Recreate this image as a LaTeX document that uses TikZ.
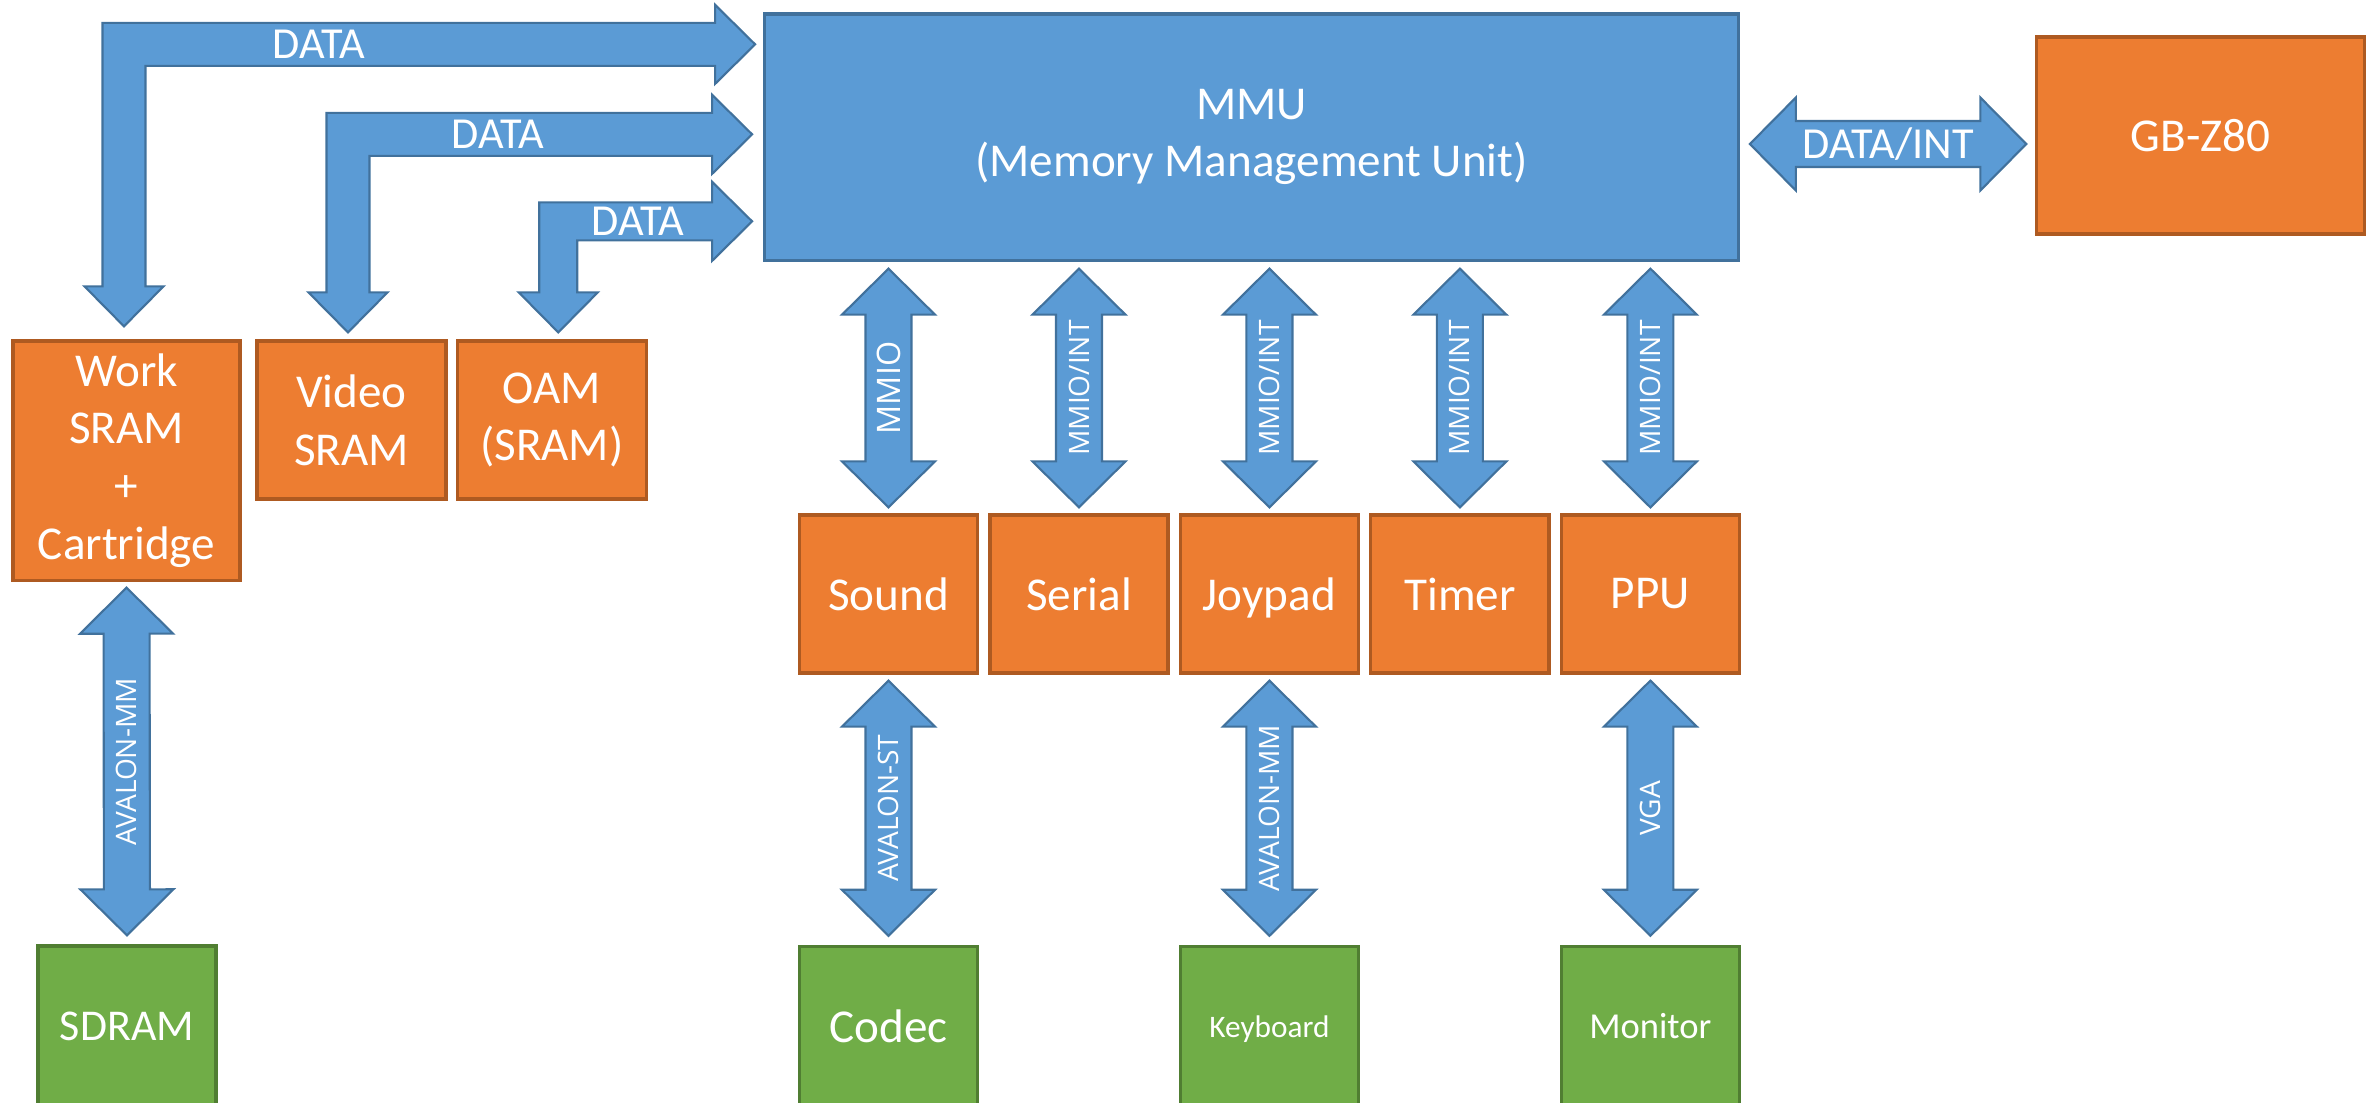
\documentclass[tikz,border=0pt]{standalone}
\usepackage{fontspec}
\setmainfont{Carlito}
\newfontfamily\tagfam{Open Sans}
\usetikzlibrary{positioning,chains,calc}

\definecolor{busblue}{HTML}{5B9BD5}
\definecolor{busedge}{HTML}{41719C}
\definecolor{ipfill}{HTML}{ED7D31}
\definecolor{ipedge}{HTML}{AE5A21}
\definecolor{extfill}{HTML}{70AD47}
\definecolor{extedge}{HTML}{507E32}

\newcommand{\ipfont}{\fontsize{13.4}{16.4}\selectfont}
\newcommand{\datafont}{\fontsize{12.6}{15}\selectfont}
\newcommand{\tagfont}{\tagfam\fontsize{8}{10}\selectfont}
\newcommand{\mmiofont}{\tagfam\fontsize{9.2}{11}\selectfont}
\newcommand{\sdfont}{\fontsize{12.5}{15}\selectfont}
\newcommand{\kbfont}{\fontsize{8.9}{10}\selectfont}
\newcommand{\monfont}{\fontsize{10.4}{12}\selectfont}

\newcommand{\busshaft}{0.23cm}
\newcommand{\bushead}{0.465cm}
\newcommand{\buslen}{0.46cm}
\newcommand{\datahead}{0.395cm}
\newcommand{\datalen}{0.40cm}

% straight bus with heads at both ends
\newcommand{\biarrow}[4]{%
  \filldraw[busarrow] (#1)
    -- ($(#1)!\buslen!(#2)!\bushead!90:(#2)$)
    -- ($(#1)!\buslen!(#2)!\busshaft!90:(#2)$)
    -- ($(#2)!\buslen!(#1)!\busshaft!-90:(#1)$)
    -- ($(#2)!\buslen!(#1)!\bushead!-90:(#1)$)
    -- (#2)
    -- ($(#2)!\buslen!(#1)!\bushead!90:(#1)$)
    -- ($(#2)!\buslen!(#1)!\busshaft!90:(#1)$)
    -- ($(#1)!\buslen!(#2)!\busshaft!-90:(#2)$)
    -- ($(#1)!\buslen!(#2)!\bushead!-90:(#2)$)
    -- cycle;
  \node[buslabel,#3] at ($(#1)!.5!(#2)$) {#4};}

% bent bus: down tip, right tip, half shaft, label shift, label
\newcommand{\databus}[5]{%
  \filldraw[busarrow] let \p1=(#1), \p2=(#2) in
    (\p1) -- (\x1+\datahead,\y1+\datalen) -- (\x1+#3,\y1+\datalen)
    -- (\x1+#3,\y2-#3) -- (\x2-\datalen,\y2-#3) -- (\x2-\datalen,\y2-\datahead)
    -- (\p2) -- (\x2-\datalen,\y2+\datahead) -- (\x2-\datalen,\y2+#3)
    -- (\x1-#3,\y2+#3) -- (\x1-#3,\y1+\datalen) -- (\x1-\datahead,\y1+\datalen) -- cycle
    (\x2-#4,\y2) node[buslabel,font=\datafont] {#5};}

\begin{document}
\begin{tikzpicture}[x=0.01cm,y=-0.01cm]
  \tikzset{
    mmubox/.style={draw=busedge,fill=busblue,line width=0.9pt,text=white,align=center,font=\ipfont,inner sep=0pt},
    ipbox/.style={draw=ipedge,fill=ipfill,line width=0.9pt,text=white,align=center,font=\ipfont,inner sep=0pt,minimum width=1.78cm,minimum height=1.58cm},
    extbox/.style={ipbox,draw=extedge,fill=extfill,minimum height=1.6cm},
    busarrow/.style={draw=busedge,fill=busblue,line width=0.6pt},
    buslabel/.style={text=white,inner sep=0pt,font=\tagfont}
  }
  \useasboundingbox (0,0) rectangle (2374,1102);

  %% core and memories
  \node[mmubox,minimum width=9.73cm,minimum height=2.46cm] (mmu) at (1251.5,137) {MMU\\(Memory Management Unit)};
  \node[ipbox,minimum width=3.27cm,minimum height=1.97cm] (cpu) at (2200.5,135.5) {GB-Z80};
  \node[ipbox,minimum width=2.27cm,minimum height=2.39cm] (wram) at (126.5,460.5) {Work\\SRAM\\+\\Cartridge};
  \node[ipbox,minimum width=1.89cm] (vram) at (351.5,420) {Video\\SRAM};
  \node[ipbox,minimum width=1.89cm,right=0.08cm of vram] (oam) {OAM\\(SRAM)};
  \node[extbox,font=\sdfont] (sdram) at (127,1026) {SDRAM};

  %% peripherals
  \begin{scope}[start chain=1 going right,node distance=0.092cm]
    \node[on chain=1,ipbox] (snd) at (888.5,594) {Sound};
    \node[on chain=1,ipbox] (ser) {Serial};
    \node[on chain=1,ipbox,text depth=0pt] (joy) {Joypad};
    \node[on chain=1,ipbox] (tim) {Timer};
    \node[on chain=1,ipbox] (ppu) {PPU};
  \end{scope}
  \node[extbox,below=2.7cm of snd] (codec) {Codec};
  \node[extbox,below=2.7cm of joy,font=\kbfont,text depth=0pt] (kbd) {Keyboard};
  \node[extbox,below=2.7cm of ppu,font=\monfont] (mon) {Monitor};

  %% data buses to the MMU
  \coordinate (wram-a) at ($(wram.north)+(-2.5,-13)$);
  \coordinate (wram-b) at ($(mmu.north west)+(-8,32)$);
  \coordinate (vram-a) at ($(vram.north)+(-3.5,-7)$);
  \coordinate (vram-b) at ($(mmu.north west)+(-11,122)$);
  \coordinate (oam-a) at ($(oam.north)+(6.5,-7)$);
  \coordinate (oam-b) at ($(mmu.north west)+(-11,209)$);
  \databus{wram-a}{wram-b}{0.215cm}{4.36cm}{DATA}
  \databus{vram-a}{vram-b}{0.215cm}{2.54cm}{DATA}
  \databus{oam-a}{oam-b}{0.19cm}{1.14cm}{DATA}

  \coordinate (cpu-a) at ($(mmu.east)+(10,7)$);
  \coordinate (cpu-b) at ($(cpu.west |- mmu.east)+(-9,7)$);
  \biarrow{cpu-a}{cpu-b}{font=\datafont}{DATA/INT}

  %% memory mapped io
  \foreach \dev in {snd,ser,joy,tim,ppu} {
    \coordinate (\dev-a) at ($(mmu.south -| \dev.north)+(0,7)$);
    \coordinate (\dev-b) at ($(\dev.north)+(0,-6)$);
  }
  \biarrow{snd-a}{snd-b}{rotate=90,font=\mmiofont}{MMIO}
  \foreach \dev in {ser,joy,tim,ppu}
    {\biarrow{\dev-a}{\dev-b}{rotate=90}{MMIO/INT}}

  %% external devices
  \foreach \dev/\ext in {snd/codec,joy/kbd,ppu/mon,wram/sdram} {
    \coordinate (\ext-a) at ($(\dev.south)+(0,6)$);
    \coordinate (\ext-b) at ($(\ext.north)+(0,-9)$);
  }
  \biarrow{codec-a}{codec-b}{rotate=90}{AVALON-ST}
  \biarrow{kbd-a}{kbd-b}{rotate=90}{AVALON-MM}
  \biarrow{mon-a}{mon-b}{rotate=90}{VGA}
  \biarrow{sdram-a}{sdram-b}{rotate=90}{AVALON-MM}
\end{tikzpicture}
\end{document}
